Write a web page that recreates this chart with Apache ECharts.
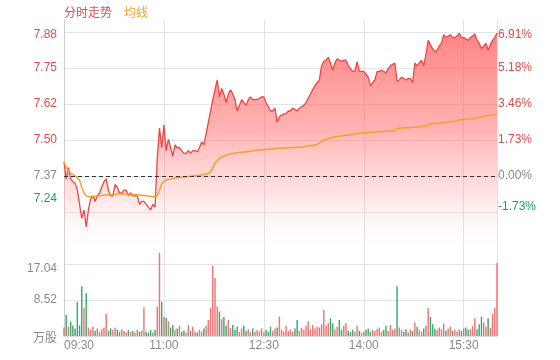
<!DOCTYPE html>
<html><head><meta charset="utf-8">
<script src="https://cdn.jsdelivr.net/npm/echarts@6/dist/echarts.min.js"></script>
<style>html,body{margin:0;padding:0;background:#fff}#c{width:560px;height:360px}</style>
</head><body><div id="c"></div>
<script>
const preClose = 7.37;
const tickStep = 1.7275; // percent per price tick
const priceTicks = ['7.88','7.75','7.62','7.50','7.37','7.24'];
const pctTicks = ['6.91%','5.18%','3.46%','1.73%','0.00%','-1.73%'];
const volTicks = ['万股','8.52','17.04'];
const volStep = 8.52;
const seriesNames = ['分时走势','均线'];

// time categories, 2-minute steps 09:30 - 16:00
const times = [];
for (let m = 570; m <= 960; m += 2) {
  const h = Math.floor(m / 60), mm = m % 60;
  times.push((h < 10 ? '0' : '') + h + ':' + (mm < 10 ? '0' : '') + mm);
}

const prices = [
7.42,7.36,7.40,7.36,7.35,7.345,7.32,7.27,7.22,7.25,
7.19,7.25,7.29,7.30,7.28,7.30,7.31,7.33,7.35,7.36,
7.32,7.30,7.30,7.34,7.33,7.31,7.31,7.32,7.32,7.30,
7.31,7.30,7.30,7.30,7.27,7.28,7.28,7.27,7.26,7.25,
7.27,7.26,7.43,7.54,7.47,7.55,7.46,7.50,7.47,7.44,
7.48,7.47,7.47,7.46,7.45,7.45,7.46,7.45,7.46,7.46,
7.455,7.47,7.49,7.48,7.52,7.56,7.60,7.64,7.675,7.71,
7.65,7.68,7.66,7.63,7.66,7.675,7.66,7.64,7.60,7.62,
7.64,7.63,7.62,7.64,7.65,7.64,7.64,7.64,7.645,7.65,
7.65,7.63,7.615,7.60,7.60,7.61,7.56,7.58,7.585,7.59,
7.59,7.60,7.60,7.61,7.605,7.60,7.61,7.615,7.62,7.63,
7.645,7.66,7.675,7.69,7.70,7.71,7.76,7.775,7.78,7.79,
7.77,7.745,7.77,7.785,7.78,7.775,7.78,7.78,7.76,7.75,
7.74,7.74,7.775,7.74,7.74,7.74,7.73,7.72,7.69,7.70,
7.71,7.74,7.74,7.745,7.74,7.735,7.75,7.76,7.765,7.77,
7.705,7.71,7.72,7.715,7.71,7.715,7.715,7.70,7.77,7.76,
7.77,7.78,7.76,7.80,7.85,7.835,7.82,7.81,7.815,7.83,
7.84,7.87,7.86,7.865,7.87,7.86,7.86,7.865,7.875,7.86,
7.86,7.855,7.85,7.86,7.865,7.873,7.85,7.84,7.82,7.83,
7.84,7.815,7.835,7.85,7.86,7.876
];

const avgPrices = [
7.42,7.40,7.39,7.38,7.375,7.37,7.365,7.356,7.33,7.31,
7.30,7.298,7.297,7.298,7.298,7.299,7.300,7.301,7.302,7.303,
7.304,7.304,7.305,7.305,7.306,7.306,7.306,7.306,7.306,7.306,
7.305,7.305,7.304,7.304,7.303,7.302,7.301,7.300,7.299,7.298,
7.297,7.297,7.30,7.32,7.344,7.35,7.356,7.358,7.36,7.361,
7.363,7.364,7.365,7.366,7.366,7.367,7.368,7.369,7.37,7.371,
7.372,7.373,7.374,7.375,7.377,7.38,7.385,7.40,7.415,7.425,
7.433,7.437,7.44,7.443,7.446,7.448,7.45,7.451,7.452,7.453,
7.454,7.455,7.456,7.457,7.458,7.459,7.46,7.461,7.462,7.463,
7.463,7.464,7.465,7.465,7.466,7.467,7.468,7.468,7.469,7.469,
7.47,7.47,7.47,7.471,7.471,7.472,7.472,7.473,7.474,7.475,
7.476,7.477,7.478,7.48,7.482,7.486,7.492,7.496,7.499,7.502,
7.505,7.507,7.509,7.51,7.511,7.512,7.513,7.514,7.515,7.516,
7.517,7.518,7.52,7.521,7.522,7.522,7.523,7.524,7.524,7.525,
7.526,7.526,7.527,7.527,7.528,7.528,7.529,7.53,7.53,7.531,
7.537,7.539,7.54,7.54,7.541,7.541,7.542,7.542,7.543,7.543,
7.544,7.545,7.546,7.548,7.552,7.554,7.555,7.556,7.557,7.558,
7.558,7.559,7.56,7.561,7.562,7.563,7.564,7.566,7.568,7.569,
7.57,7.571,7.572,7.573,7.573,7.574,7.576,7.577,7.579,7.58,
7.582,7.583,7.585,7.586,7.588,7.589
];

const volumes = [
2.0,5.0,2.2,3.4,2.5,1.8,8.1,2.5,11.8,6.6,
10.1,2.0,1.5,2.2,1.2,1.8,1.0,1.6,2.0,5.2,
1.2,1.8,1.4,2.0,1.5,1.0,1.6,1.2,0.9,1.4,
1.0,1.2,0.8,1.5,1.0,1.2,6.8,1.0,0.8,1.4,
0.8,1.5,6.9,19.7,8.1,4.5,4.3,3.5,2.0,2.6,
1.5,1.8,2.4,1.0,1.3,0.8,2.6,1.2,2.2,1.0,
0.8,1.5,1.0,1.8,2.4,3.8,6.6,16.6,13.7,7.0,
5.8,4.0,4.5,2.5,3.8,1.8,2.6,1.5,2.2,1.0,
1.8,2.4,1.2,1.6,0.9,1.8,1.0,1.4,1.1,1.8,
0.9,1.5,1.0,2.2,1.2,1.8,2.0,4.6,1.5,1.0,
2.4,1.2,1.6,1.0,1.8,3.8,1.2,2.0,1.4,2.4,
3.5,1.6,2.6,1.8,2.2,2.0,2.8,6.2,2.5,3.0,
4.2,3.0,1.6,2.2,3.8,1.5,2.4,3.0,1.2,0.9,
1.5,1.0,2.4,1.2,0.8,1.0,1.4,1.8,1.0,1.5,
1.2,1.6,2.0,1.0,1.4,2.4,1.2,2.6,1.5,1.8,
11.8,2.0,1.4,1.0,1.6,0.9,1.5,1.2,3.2,2.2,
1.4,1.0,1.8,2.5,6.6,4.5,2.8,1.8,1.4,2.0,
1.6,3.0,1.2,1.8,2.2,1.2,1.4,1.0,1.6,1.2,
1.8,2.0,1.4,1.6,2.4,4.2,1.6,2.8,4.6,3.2,
2.2,4.2,2.0,5.2,6.6,17.3
];

const RED = '#e84a4a', GREEN = '#1f9e5c', GRAY = '#8a8a8a', ORANGE = '#f5a02a';
const FONT = 'Arial, "Liberation Sans", "Noto Sans CJK SC", sans-serif';

const toPct = p => (p / preClose - 1) * 100;
const priceData = prices.map(toPct);
const avgData = avgPrices.map(toPct);
const volData = volumes.map((v, i) => {
  const prev = i === 0 ? preClose : prices[i - 1];
  const up = prices[i] >= prev;
  return { value: v, itemStyle: { color: up ? 'rgba(238,80,80,0.8)' : 'rgba(25,155,85,0.85)' } };
});

const tickIndex = v => 4 - Math.round(v / tickStep);
const labelColor = v => { const k = Math.round(v / tickStep); return k > 0 ? RED : (k < 0 ? GREEN : GRAY); };
const leftShift = ['d3','','','','','u13'];
const rightShift = ['d3','','','','','u5'];
const volShift = ['d3','','d4'];
const rich = {
  d3: { padding: [6, 0, 0, 0] },
  d4: { padding: [9, 0, 0, 0] },
  u5: { padding: [0, 0, 10, 0] },
  u13: { padding: [0, 0, 26, 0] }
};
const wrap = (cls, txt) => cls ? '{' + cls + '|' + txt + '}' : txt;

const vLineIdx = (i) => (i % 45 === 0) || i === times.length - 1;

const chart = echarts.init(document.getElementById('c'), null, { renderer: 'canvas' });
chart.setOption({
  animation: false,
  textStyle: { fontFamily: FONT },
  legend: {
    left: 54, top: 3, itemWidth: 0, itemHeight: 0, itemGap: 7,
    textStyle: { fontSize: 12, fontFamily: FONT },
    data: [
      { name: seriesNames[0], icon: 'rect', textStyle: { color: RED } },
      { name: seriesNames[1], icon: 'rect', textStyle: { color: ORANGE } }
    ],
    selectedMode: false
  },
  grid: [
    { left: 64, right: 63, top: 20, height: 228 },
    { left: 64, right: 63, top: 248, height: 88 }
  ],
  xAxis: [
    {
      type: 'category', gridIndex: 0, data: times, boundaryGap: false,
      axisLine: { show: false }, axisTick: { show: false }, axisLabel: { show: false },
      splitLine: { show: true, interval: vLineIdx, lineStyle: { color: '#e2e2e2' } }
    },
    {
      type: 'category', gridIndex: 1, data: times, boundaryGap: false,
      axisLine: { show: true, lineStyle: { color: '#dcdcdc' } }, axisTick: { show: false },
      axisLabel: {
        color: GRAY, fontSize: 12, margin: 4, fontFamily: FONT,
        interval: (i) => i % 45 === 0 && i !== times.length - 1,
        alignMinLabel: 'left'
      },
      splitLine: { show: true, interval: vLineIdx, lineStyle: { color: '#e2e2e2' } }
    }
  ],
  yAxis: [
    {
      type: 'value', gridIndex: 0, position: 'left',
      min: -2 * tickStep, max: 7.49, interval: tickStep,
      axisLine: { show: true, lineStyle: { color: '#cfcfcf' } }, axisTick: { show: false },
      axisLabel: {
        margin: 7, fontSize: 12, fontFamily: FONT, showMinLabel: false, showMaxLabel: false,
        color: (v) => labelColor(Number(v)),
        formatter: (v) => { const i = tickIndex(v); return priceTicks[i] ? wrap(leftShift[i], priceTicks[i]) : ''; },
        rich: rich
      },
      splitLine: { show: true, showMinLine: false, showMaxLine: false, lineStyle: { color: '#e3e3e3' } }
    },
    {
      type: 'value', gridIndex: 0, position: 'right',
      min: -2 * tickStep, max: 7.49, interval: tickStep,
      axisLine: { show: false }, axisTick: { show: false },
      axisLabel: {
        margin: 1, fontSize: 12, fontFamily: FONT, showMinLabel: false, showMaxLabel: false,
        color: (v) => labelColor(Number(v)),
        formatter: (v) => { const i = tickIndex(v); return pctTicks[i] ? wrap(rightShift[i], pctTicks[i]) : ''; },
        rich: rich
      },
      splitLine: { show: false }
    },
    {
      type: 'value', gridIndex: 1, position: 'left',
      min: 0, max: 20.83, interval: volStep,
      axisLine: { show: true, lineStyle: { color: '#cfcfcf' } }, axisTick: { show: false },
      axisLabel: {
        margin: 7, fontSize: 12, fontFamily: FONT, color: GRAY, showMaxLabel: false,
        formatter: (v) => { const i = Math.round(v / volStep); return volTicks[i] ? wrap(volShift[i], volTicks[i]) : ''; },
        rich: rich
      },
      splitLine: { show: true, showMinLine: false, showMaxLine: false, lineStyle: { color: '#e3e3e3' } }
    }
  ],
  series: [
    {
      name: seriesNames[0], type: 'line', xAxisIndex: 0, yAxisIndex: 0,
      data: priceData, symbol: 'none', showSymbol: false,
      lineStyle: { color: '#f04545', width: 1.3 },
      itemStyle: { color: RED },
      areaStyle: {
        origin: 'start',
        color: new echarts.graphic.LinearGradient(0, 0, 0, 1, [
          { offset: 0, color: 'rgba(255,80,80,1)' },
          { offset: 0.45, color: 'rgba(255,100,100,0.7)' },
          { offset: 0.75, color: 'rgba(255,140,140,0.35)' },
          { offset: 1, color: 'rgba(255,255,255,0.1)' }
        ])
      },
      markLine: {
        silent: true, symbol: 'none', label: { show: false },
        lineStyle: { color: '#333', type: [4, 3], width: 1 },
        data: [{ yAxis: 0 }]
      },
      z: 2
    },
    {
      name: seriesNames[1], type: 'line', xAxisIndex: 0, yAxisIndex: 0,
      data: avgData, symbol: 'none', showSymbol: false,
      lineStyle: { color: ORANGE, width: 1.5 },
      itemStyle: { color: ORANGE },
      z: 3
    },
    {
      name: '成交量', type: 'bar', xAxisIndex: 1, yAxisIndex: 2,
      data: volData, barWidth: '65%'
    }
  ]
});
</script>
</body></html>
